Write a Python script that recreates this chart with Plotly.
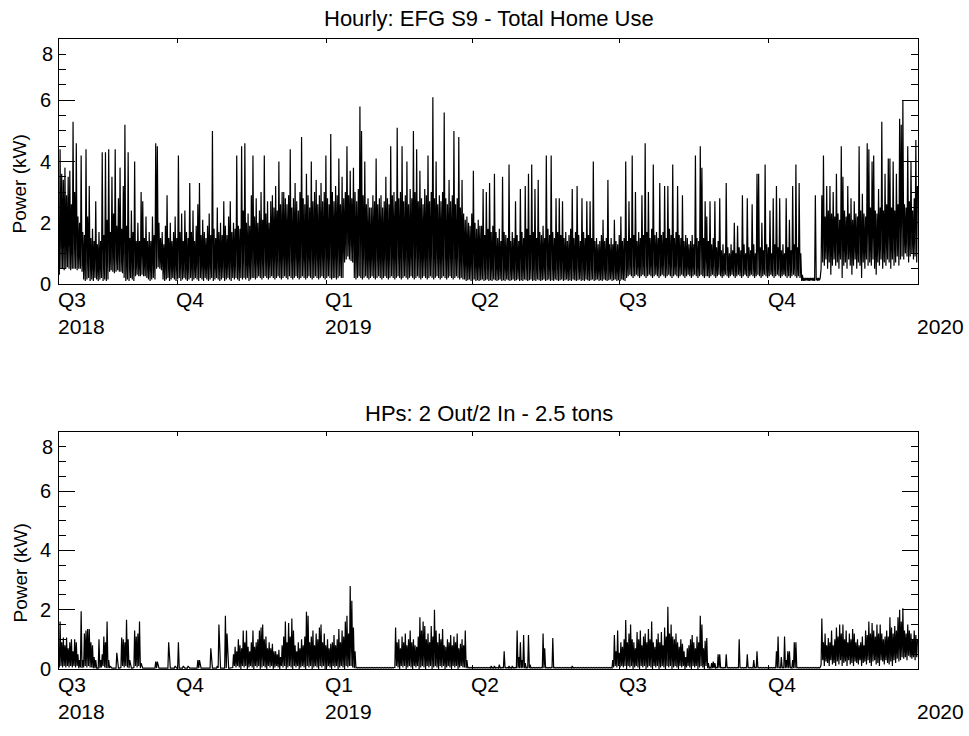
import pandas as pd
import plotly.graph_objects as go

# ---------------------------------------------------------------
# Daily low / high of the hourly power readings (kW), one value per
# day starting 2018-07-20.
# ---------------------------------------------------------------
START = "2018-07-20"
END = "2020-01-01"

HOME_HIGH = [
    4.4, 3.6, 3.4, 3.8, 2.9, 3.5, 3.7, 2.6, 5.3, 3.0,
    4.6, 2.2, 2.0, 4.2, 1.7, 1.6, 4.4, 2.2, 3.2, 1.5,
    1.8, 1.4, 2.7, 1.3, 1.7, 1.4, 4.3, 1.6, 4.3, 2.1,
    4.4, 1.7, 3.5, 2.3, 4.4, 1.9, 2.8, 3.8, 1.8, 3.2,
    5.2, 1.9, 4.3, 1.5, 2.4, 1.7, 4.0, 1.4, 2.0, 1.4,
    3.0, 2.7, 1.5, 2.2, 1.4, 1.7, 1.4, 2.2, 1.6, 4.6,
    4.5, 2.0, 1.5, 1.7, 1.3, 1.9, 2.9, 1.5, 2.0, 1.4,
    1.7, 2.2, 1.5, 4.2, 1.7, 2.3, 1.4, 2.4, 1.7, 1.5,
    3.3, 1.7, 2.4, 1.4, 1.9, 2.6, 3.3, 1.6, 2.1, 1.7,
    1.5, 1.9, 2.3, 1.6, 5.0, 1.8, 1.5, 2.5, 1.7, 2.0,
    1.6, 2.7, 1.9, 1.6, 2.2, 2.7, 1.7, 2.0, 1.8, 4.2,
    1.9, 1.8, 4.5, 2.4, 4.6, 2.0, 2.3, 1.9, 2.9, 4.2,
    2.2, 2.8, 2.0, 2.4, 3.0, 2.1, 4.2, 2.3, 2.7, 2.0,
    2.7, 2.9, 2.5, 3.2, 2.4, 4.0, 2.6, 3.0, 3.0, 2.8,
    2.6, 2.9, 4.4, 2.5, 2.8, 3.3, 2.7, 2.4, 3.0, 4.8,
    2.8, 2.6, 3.6, 2.9, 2.5, 4.0, 2.7, 3.0, 3.4, 2.6,
    2.9, 3.3, 2.7, 3.0, 4.2, 2.8, 2.6, 4.9, 3.0, 2.7,
    3.2, 2.9, 4.1, 2.6, 3.5, 2.8, 3.0, 4.5, 2.9, 3.7,
    2.8, 3.8, 3.0, 2.7, 3.1, 5.8, 5.0, 2.9, 4.0, 2.6,
    2.8, 2.5, 2.5, 2.9, 2.7, 4.1, 2.6, 2.8, 2.9, 2.5,
    2.7, 3.5, 2.8, 2.6, 4.5, 2.9, 3.0, 2.7, 5.1, 2.8,
    3.0, 4.5, 2.7, 2.9, 4.0, 2.6, 3.1, 2.8, 5.0, 3.0,
    4.4, 2.7, 3.7, 2.8, 2.6, 3.1, 2.9, 4.2, 2.7, 3.0,
    6.1, 2.8, 4.0, 2.6, 2.9, 2.7, 3.0, 5.6, 2.8, 2.6,
    3.4, 2.7, 2.9, 5.0, 2.6, 2.8, 4.8, 2.5, 3.4, 2.3,
    2.1, 2.2, 2.0, 1.9, 2.3, 3.7, 2.0, 1.8, 2.1, 1.9,
    1.9, 3.1, 1.6, 3.0, 1.8, 3.3, 1.7, 1.9, 3.6, 1.7,
    1.5, 1.8, 1.4, 3.5, 1.7, 1.6, 1.5, 3.9, 1.4, 1.7,
    1.5, 2.7, 1.6, 1.4, 3.1, 1.7, 1.5, 3.2, 1.8, 3.6,
    1.6, 3.9, 1.7, 3.1, 1.5, 3.4, 1.7, 1.6, 1.9, 1.5,
    4.2, 1.8, 1.6, 4.2, 1.7, 1.5, 2.8, 1.7, 2.8, 1.6,
    2.7, 1.5, 1.7, 1.4, 1.6, 1.8, 3.1, 1.5, 1.7, 3.2,
    1.6, 1.4, 2.8, 1.7, 1.5, 2.7, 1.6, 2.7, 1.5, 4.0,
    1.4, 1.5, 1.3, 1.4, 1.6, 2.1, 1.4, 1.5, 3.4, 1.3,
    1.5, 1.3, 2.1, 1.4, 1.3, 1.6, 2.2, 1.4, 1.5, 4.0,
    1.4, 2.7, 1.5, 4.2, 1.6, 3.0, 1.4, 1.7, 1.5, 2.9,
    1.6, 4.6, 1.7, 3.0, 1.5, 1.8, 3.9, 1.6, 1.7, 1.5,
    3.3, 1.6, 1.7, 3.2, 1.5, 3.2, 1.8, 1.6, 3.9, 1.5,
    1.7, 3.2, 1.6, 1.5, 2.9, 1.4, 1.6, 1.5, 1.3, 1.4,
    1.6, 1.3, 4.2, 1.5, 1.4, 4.5, 3.8, 1.5, 2.7, 2.2,
    1.4, 2.7, 1.3, 1.5, 2.7, 1.2, 1.4, 2.8, 1.1, 1.3,
    1.0, 3.3, 1.2, 1.0, 1.3, 1.1, 2.0, 1.0, 1.9, 1.2,
    1.1, 2.9, 1.3, 1.0, 2.8, 1.2, 1.1, 2.6, 1.3, 1.0,
    3.6, 3.6, 1.2, 2.0, 1.1, 3.9, 1.3, 1.2, 2.4, 1.0,
    2.8, 1.3, 3.2, 1.2, 2.8, 1.1, 1.3, 1.0, 2.8, 1.2,
    2.1, 1.1, 3.2, 1.3, 3.9, 1.2, 3.3, 1.0, 0.3, 0.2,
    0.2, 0.2, 0.2, 0.2, 0.2, 0.2, 2.9, 0.2, 0.2, 0.2,
    2.9, 4.2, 2.2, 3.2, 2.4, 3.2, 2.3, 3.0, 2.2, 3.6,
    2.3, 2.1, 4.5, 3.5, 2.4, 2.2, 3.2, 2.3, 2.8, 2.1,
    2.7, 2.3, 2.2, 4.5, 2.4, 2.95, 2.3, 2.2, 4.6, 4.4,
    2.5, 4.0, 4.2, 2.4, 2.3, 3.1, 2.5, 5.3, 2.4, 3.6,
    2.6, 4.1, 4.1, 2.5, 4.0, 2.4, 3.6, 2.6, 5.4, 5.2,
    6.0, 2.6, 2.5, 4.5, 2.7, 4.0, 2.4, 2.8, 4.7, 3.2,
]

HOME_LOW = [
    0.3, 0.5, 0.5, 0.45, 0.5, 0.55, 0.5, 0.45, 0.5, 0.5,
    0.5, 0.45, 0.5, 0.5, 0.4, 0.15, 0.1, 0.15, 0.2, 0.1,
    0.15, 0.1, 0.2, 0.15, 0.1, 0.15, 0.2, 0.1, 0.15, 0.1,
    0.15, 0.4, 0.45, 0.4, 0.35, 0.4, 0.45, 0.4, 0.4, 0.35,
    0.2, 0.1, 0.15, 0.1, 0.2, 0.15, 0.1, 0.25, 0.3, 0.25,
    0.25, 0.3, 0.25, 0.25, 0.2, 0.15, 0.1, 0.15, 0.2, 0.15,
    0.5, 0.55, 0.5, 0.45, 0.15, 0.1, 0.15, 0.2, 0.1, 0.15,
    0.2, 0.15, 0.1, 0.15, 0.2, 0.1, 0.15, 0.2, 0.15, 0.1,
    0.15, 0.2, 0.1, 0.15, 0.2, 0.15, 0.1, 0.2, 0.15, 0.1,
    0.2, 0.15, 0.1, 0.15, 0.2, 0.1, 0.15, 0.2, 0.15, 0.1,
    0.15, 0.2, 0.1, 0.15, 0.2, 0.15, 0.1, 0.2, 0.15, 0.2,
    0.15, 0.1, 0.2, 0.15, 0.2, 0.15, 0.2, 0.1, 0.15, 0.2,
    0.2, 0.15, 0.2, 0.25, 0.2, 0.15, 0.2, 0.25, 0.2, 0.15,
    0.2, 0.25, 0.2, 0.15, 0.2, 0.25, 0.2, 0.15, 0.2, 0.25,
    0.2, 0.15, 0.25, 0.2, 0.15, 0.2, 0.25, 0.2, 0.15, 0.2,
    0.25, 0.2, 0.15, 0.2, 0.25, 0.2, 0.15, 0.2, 0.25, 0.2,
    0.15, 0.2, 0.25, 0.2, 0.15, 0.2, 0.25, 0.2, 0.15, 0.2,
    0.2, 0.15, 0.2, 0.25, 0.2, 0.2, 0.7, 0.8, 0.9, 0.8,
    0.75, 0.7, 0.2, 0.15, 0.2, 0.25, 0.2, 0.15, 0.2, 0.25,
    0.2, 0.15, 0.2, 0.25, 0.2, 0.15, 0.2, 0.25, 0.2, 0.15,
    0.2, 0.25, 0.2, 0.15, 0.2, 0.25, 0.2, 0.15, 0.2, 0.25,
    0.2, 0.15, 0.2, 0.25, 0.2, 0.15, 0.2, 0.25, 0.2, 0.15,
    0.2, 0.25, 0.2, 0.15, 0.2, 0.25, 0.2, 0.15, 0.2, 0.25,
    0.2, 0.15, 0.2, 0.25, 0.2, 0.15, 0.2, 0.25, 0.2, 0.15,
    0.2, 0.25, 0.2, 0.15, 0.2, 0.25, 0.2, 0.15, 0.2, 0.15,
    0.15, 0.1, 0.12, 0.15, 0.1, 0.12, 0.15, 0.1, 0.12, 0.1,
    0.12, 0.15, 0.1, 0.12, 0.15, 0.1, 0.12, 0.1, 0.15, 0.12,
    0.1, 0.12, 0.15, 0.1, 0.12, 0.1, 0.15, 0.12, 0.1, 0.12,
    0.15, 0.1, 0.12, 0.15, 0.1, 0.12, 0.1, 0.15, 0.12, 0.1,
    0.12, 0.15, 0.1, 0.12, 0.1, 0.15, 0.12, 0.1, 0.12, 0.15,
    0.1, 0.12, 0.15, 0.1, 0.12, 0.1, 0.15, 0.12, 0.1, 0.12,
    0.15, 0.1, 0.12, 0.15, 0.1, 0.12, 0.1, 0.15, 0.12, 0.1,
    0.12, 0.15, 0.1, 0.12, 0.1, 0.15, 0.12, 0.1, 0.12, 0.15,
    0.1, 0.12, 0.15, 0.1, 0.12, 0.1, 0.15, 0.12, 0.1, 0.12,
    0.15, 0.1, 0.12, 0.15, 0.1, 0.12, 0.1, 0.15, 0.12, 0.1,
    0.2, 0.25, 0.3, 0.25, 0.2, 0.25, 0.3, 0.25, 0.2, 0.25,
    0.3, 0.25, 0.2, 0.25, 0.3, 0.25, 0.2, 0.25, 0.3, 0.25,
    0.2, 0.25, 0.3, 0.25, 0.2, 0.25, 0.3, 0.25, 0.2, 0.25,
    0.3, 0.25, 0.2, 0.25, 0.3, 0.25, 0.2, 0.25, 0.3, 0.25,
    0.2, 0.25, 0.3, 0.25, 0.2, 0.25, 0.3, 0.25, 0.2, 0.25,
    0.25, 0.2, 0.25, 0.3, 0.25, 0.2, 0.25, 0.3, 0.25, 0.2,
    0.25, 0.3, 0.25, 0.2, 0.25, 0.3, 0.25, 0.2, 0.25, 0.3,
    0.25, 0.2, 0.25, 0.3, 0.25, 0.2, 0.25, 0.3, 0.25, 0.2,
    0.25, 0.3, 0.25, 0.2, 0.25, 0.3, 0.25, 0.2, 0.25, 0.3,
    0.25, 0.2, 0.25, 0.3, 0.25, 0.2, 0.25, 0.3, 0.25, 0.2,
    0.25, 0.2, 0.25, 0.3, 0.25, 0.2, 0.25, 0.2, 0.1, 0.1,
    0.1, 0.12, 0.1, 0.1, 0.12, 0.1, 0.1, 0.12, 0.1, 0.12,
    0.5, 0.7, 0.6, 0.8, 0.5, 0.7, 0.3, 0.6, 0.8, 0.6,
    0.7, 0.5, 0.8, 0.2, 0.6, 0.7, 0.5, 0.8, 0.6, 0.3,
    0.6, 0.8, 0.5, 0.7, 0.6, 0.2, 0.7, 0.5, 0.8, 0.6,
    0.7, 0.6, 0.8, 0.5, 0.3, 0.7, 0.6, 0.8, 0.5, 0.7,
    0.6, 0.8, 0.7, 0.5, 0.8, 0.6, 0.7, 0.9, 0.6, 0.8,
    0.9, 0.8, 1.0, 0.9, 0.7, 0.9, 1.0, 0.8, 0.9, 0.7,
]

HP_HIGH = [
    1.6, 0.9, 1.06, 0.8, 1.06, 0.7, 0.9, 1.0, 0.6, 1.0,
    0.9, 0.5, 0.3, 1.95, 0.3, 1.2, 1.3, 1.35, 1.35, 0.9,
    0.8, 0.4, 0.3, 0.03, 1.0, 0.3, 0.5, 1.1, 0.9, 1.6,
    0.3, 0.1, 0.03, 0.03, 0.03, 0.55, 0.03, 0.03, 1.06, 1.0,
    0.9, 1.66, 1.0, 0.3, 0.03, 0.03, 1.3, 1.1, 1.2, 1.6,
    0.2, 0.03, 0.03, 0.03, 0.03, 0.03, 0.03, 0.03, 0.03, 0.25,
    0.25, 0.03, 0.03, 0.03, 0.03, 0.03, 0.03, 0.9, 0.03, 0.03,
    0.03, 0.1, 0.03, 0.9, 0.03, 0.03, 0.1, 0.03, 0.03, 0.1,
    0.03, 0.03, 0.03, 0.03, 0.03, 0.3, 0.3, 0.03, 0.03, 0.03,
    0.03, 0.03, 0.03, 0.7, 0.03, 0.03, 0.03, 0.1, 1.5, 0.03,
    0.03, 0.03, 1.8, 1.2, 0.03, 0.03, 0.03, 0.5, 0.75, 0.6,
    1.0, 0.8, 0.7, 1.3, 0.9, 1.3, 0.75, 0.6, 0.9, 1.3,
    0.75, 0.9, 1.0, 1.3, 1.4, 1.5, 1.0, 1.1, 0.7, 0.9,
    0.7, 0.85, 0.6, 0.6, 0.5, 0.65, 0.4, 0.8, 1.1, 1.6,
    0.9, 1.55, 1.1, 1.7, 1.3, 0.8, 0.6, 0.9, 0.7, 1.0,
    0.8, 1.1, 1.93, 1.8, 0.9, 1.1, 1.3, 0.8, 1.2, 1.0,
    1.4, 1.5, 0.9, 1.2, 0.8, 1.0, 0.7, 0.85, 0.9, 1.15,
    0.8, 1.0, 1.35, 0.9, 1.3, 1.1, 1.6, 1.8, 1.2, 2.8,
    2.3, 1.4, 0.6, 0.05, 0.05, 0.05, 0.05, 0.05, 0.05, 0.05,
    0.05, 0.05, 0.05, 0.05, 0.05, 0.05, 0.05, 0.05, 0.05, 0.05,
    0.05, 0.05, 0.05, 0.05, 0.05, 0.05, 0.05, 1.4, 0.9, 1.0,
    0.7, 1.1, 0.9, 1.2, 0.8, 1.0, 1.3, 0.9, 1.0, 0.8,
    0.75, 1.1, 1.75, 1.3, 1.6, 1.45, 1.0, 1.2, 0.9, 1.45,
    1.1, 2.0, 1.3, 0.9, 1.2, 1.0, 1.35, 0.8, 0.75, 1.0,
    0.9, 1.15, 0.8, 1.1, 0.9, 1.2, 0.7, 0.85, 1.0, 0.8,
    1.3, 0.3, 0.05, 0.05, 0.05, 0.05, 0.05, 0.05, 0.05, 0.05,
    0.05, 0.05, 0.05, 0.05, 0.05, 0.05, 0.1, 0.05, 0.1, 0.05,
    0.05, 0.15, 0.05, 0.05, 0.6, 0.05, 0.05, 0.1, 0.05, 0.1,
    0.05, 0.05, 1.3, 0.4, 0.9, 0.3, 1.15, 0.2, 0.05, 1.15,
    0.15, 0.05, 0.05, 0.05, 0.05, 0.05, 0.05, 0.05, 1.2, 0.7,
    0.05, 0.05, 0.05, 0.05, 1.05, 0.05, 0.05, 0.05, 0.05, 0.05,
    0.05, 0.05, 0.05, 0.05, 0.05, 0.05, 0.1, 0.05, 0.05, 0.05,
    0.05, 0.05, 0.05, 0.05, 0.05, 0.05, 0.05, 0.05, 0.05, 0.05,
    0.05, 0.05, 0.05, 0.05, 0.05, 0.05, 0.05, 0.05, 0.05, 0.05,
    0.05, 0.3, 1.15, 0.6, 1.3, 0.55, 0.9, 0.75, 1.0, 1.65,
    0.9, 1.2, 1.5, 1.0, 0.9, 0.7, 1.25, 1.0, 1.3, 0.8,
    1.1, 1.2, 0.9, 1.35, 1.0, 1.6, 0.9, 0.75, 1.0, 1.2,
    0.9, 1.25, 0.8, 1.4, 1.1, 2.1, 1.2, 1.5, 1.1, 1.0,
    1.2, 0.9, 0.75, 1.0, 0.85, 0.6, 0.4, 0.7, 0.8, 1.0,
    1.15, 0.9, 0.7, 1.1, 0.9, 1.8, 1.5, 0.7, 0.95, 1.05,
    0.2, 0.05, 0.2, 0.25, 0.2, 0.05, 0.5, 0.5, 0.05, 0.05,
    0.05, 0.5, 0.05, 0.05, 0.05, 0.05, 0.05, 0.05, 0.05, 1.0,
    0.05, 0.05, 0.05, 0.05, 0.5, 0.05, 0.05, 0.05, 0.3, 0.05,
    0.6, 0.05, 0.05, 0.05, 0.05, 0.05, 0.05, 0.05, 0.05, 0.05,
    0.05, 0.05, 0.6, 1.1, 0.05, 0.4, 0.05, 1.1, 0.3, 0.6,
    0.6, 0.05, 0.3, 0.9, 0.9, 0.05, 0.05, 0.05, 0.05, 0.05,
    0.05, 0.05, 0.05, 0.05, 0.05, 0.05, 0.05, 0.05, 0.05, 0.05,
    1.7, 0.9, 1.2, 0.8, 1.05, 0.9, 1.3, 0.8, 1.0, 1.4,
    1.1, 1.5, 1.2, 1.5, 1.0, 1.3, 0.9, 1.2, 1.0, 1.35,
    1.2, 0.9, 1.0, 0.8, 0.9, 1.1, 0.8, 1.3, 1.15, 1.6,
    1.2, 1.55, 1.3, 1.1, 1.5, 1.2, 1.5, 1.2, 1.0, 1.1,
    1.3, 1.1, 1.75, 1.4, 1.2, 1.45, 1.3, 1.75, 2.0, 1.6,
    2.05, 1.3, 1.2, 1.5, 1.3, 1.2, 1.0, 1.3, 1.15, 1.0,
]

HP_LOW = [
    0.05, 0.1, 0.05, 0.1, 0.05, 0.1, 0.05, 0.1, 0.05, 0.1,
    0.05, 0.1, 0.03, 0.05, 0.03, 0.05, 0.1, 0.05, 0.1, 0.05,
    0.05, 0.03, 0.03, 0.03, 0.03, 0.03, 0.05, 0.1, 0.05, 0.03,
    0.03, 0.03, 0.03, 0.03, 0.03, 0.03, 0.03, 0.03, 0.05, 0.1,
    0.05, 0.1, 0.05, 0.03, 0.03, 0.03, 0.05, 0.1, 0.05, 0.1,
    0.03, 0.03, 0.03, 0.03, 0.03, 0.03, 0.03, 0.03, 0.03, 0.03,
    0.03, 0.03, 0.03, 0.03, 0.03, 0.03, 0.03, 0.03, 0.03, 0.03,
    0.03, 0.03, 0.03, 0.03, 0.03, 0.03, 0.03, 0.03, 0.03, 0.03,
    0.03, 0.03, 0.03, 0.03, 0.03, 0.03, 0.03, 0.03, 0.03, 0.03,
    0.03, 0.03, 0.03, 0.03, 0.03, 0.03, 0.03, 0.03, 0.03, 0.03,
    0.03, 0.03, 0.03, 0.03, 0.03, 0.03, 0.03, 0.05, 0.1, 0.05,
    0.1, 0.05, 0.0, 0.1, 0.05, 0.1, 0.0, 0.05, 0.1, 0.05,
    0.0, 0.1, 0.05, 0.1, 0.0, 0.05, 0.1, 0.05, 0.0, 0.1,
    0.05, 0.1, 0.0, 0.05, 0.1, 0.05, 0.0, 0.1, 0.05, 0.1,
    0.0, 0.05, 0.1, 0.05, 0.0, 0.1, 0.05, 0.1, 0.0, 0.05,
    0.1, 0.05, 0.0, 0.1, 0.05, 0.1, 0.0, 0.05, 0.1, 0.05,
    0.0, 0.1, 0.05, 0.1, 0.0, 0.05, 0.1, 0.05, 0.0, 0.1,
    0.05, 0.1, 0.0, 0.05, 0.1, 0.05, 0.0, 0.1, 0.05, 0.1,
    0.1, 0.05, 0.03, 0.03, 0.03, 0.03, 0.03, 0.03, 0.03, 0.03,
    0.03, 0.03, 0.03, 0.03, 0.03, 0.03, 0.03, 0.03, 0.03, 0.03,
    0.03, 0.03, 0.03, 0.03, 0.03, 0.03, 0.03, 0.05, 0.1, 0.05,
    0.0, 0.1, 0.05, 0.1, 0.0, 0.05, 0.1, 0.05, 0.0, 0.1,
    0.05, 0.1, 0.0, 0.05, 0.1, 0.05, 0.0, 0.1, 0.05, 0.1,
    0.0, 0.05, 0.1, 0.05, 0.0, 0.1, 0.05, 0.1, 0.0, 0.05,
    0.1, 0.05, 0.0, 0.1, 0.05, 0.1, 0.0, 0.05, 0.1, 0.05,
    0.05, 0.03, 0.03, 0.03, 0.03, 0.03, 0.03, 0.03, 0.03, 0.03,
    0.03, 0.03, 0.03, 0.03, 0.03, 0.03, 0.03, 0.03, 0.03, 0.03,
    0.03, 0.03, 0.03, 0.03, 0.03, 0.03, 0.03, 0.03, 0.03, 0.03,
    0.03, 0.03, 0.03, 0.03, 0.03, 0.03, 0.03, 0.03, 0.03, 0.03,
    0.03, 0.03, 0.03, 0.03, 0.03, 0.03, 0.03, 0.03, 0.03, 0.03,
    0.03, 0.03, 0.03, 0.03, 0.03, 0.03, 0.03, 0.03, 0.03, 0.03,
    0.03, 0.03, 0.03, 0.03, 0.03, 0.03, 0.03, 0.03, 0.03, 0.03,
    0.03, 0.03, 0.03, 0.03, 0.03, 0.03, 0.03, 0.03, 0.03, 0.03,
    0.03, 0.03, 0.03, 0.03, 0.03, 0.03, 0.03, 0.03, 0.03, 0.03,
    0.03, 0.03, 0.05, 0.1, 0.05, 0.1, 0.05, 0.1, 0.05, 0.1,
    0.0, 0.1, 0.05, 0.1, 0.0, 0.05, 0.1, 0.05, 0.0, 0.1,
    0.05, 0.1, 0.0, 0.05, 0.1, 0.05, 0.0, 0.1, 0.05, 0.1,
    0.0, 0.05, 0.1, 0.05, 0.0, 0.1, 0.05, 0.1, 0.0, 0.05,
    0.1, 0.05, 0.0, 0.1, 0.05, 0.1, 0.0, 0.05, 0.1, 0.05,
    0.0, 0.1, 0.05, 0.1, 0.0, 0.05, 0.1, 0.05, 0.0, 0.1,
    0.03, 0.03, 0.03, 0.03, 0.03, 0.03, 0.03, 0.03, 0.03, 0.03,
    0.03, 0.03, 0.03, 0.03, 0.03, 0.03, 0.03, 0.03, 0.03, 0.03,
    0.03, 0.03, 0.03, 0.03, 0.03, 0.03, 0.03, 0.03, 0.03, 0.03,
    0.03, 0.03, 0.03, 0.03, 0.03, 0.03, 0.03, 0.03, 0.03, 0.03,
    0.03, 0.03, 0.03, 0.03, 0.03, 0.03, 0.03, 0.03, 0.03, 0.03,
    0.03, 0.03, 0.03, 0.03, 0.03, 0.03, 0.03, 0.03, 0.03, 0.03,
    0.03, 0.03, 0.03, 0.03, 0.03, 0.03, 0.03, 0.03, 0.03, 0.03,
    0.15, 0.3, 0.1, 0.25, 0.2, 0.1, 0.3, 0.15, 0.2, 0.1,
    0.25, 0.15, 0.3, 0.1, 0.2, 0.25, 0.1, 0.3, 0.15, 0.2,
    0.1, 0.25, 0.2, 0.15, 0.3, 0.1, 0.2, 0.25, 0.15, 0.3,
    0.2, 0.1, 0.25, 0.3, 0.15, 0.2, 0.1, 0.3, 0.25, 0.15,
    0.3, 0.2, 0.15, 0.25, 0.1, 0.3, 0.2, 0.35, 0.25, 0.3,
    0.4, 0.35, 0.4, 0.3, 0.45, 0.4, 0.35, 0.4, 0.3, 0.4,
]

QUARTER_TICKS = ["2018-10-01", "2019-01-01", "2019-04-01", "2019-07-01", "2019-10-01"]
QUARTER_LABELS = [(START, "Q3"), ("2018-10-01", "Q4"), ("2019-01-01", "Q1"),
                  ("2019-04-01", "Q2"), ("2019-07-01", "Q3"), ("2019-10-01", "Q4")]
YEAR_LABELS = [(START, "2018"), ("2019-01-01", "2019"), (END, "2020")]

PANEL_TITLES = ["Hourly: EFG S9 - Total Home Use", "HPs: 2 Out/2 In - 2.5 tons"]
Y_TITLE = "Power (kW)"
Y_MAJOR = [0, 2, 4, 6]
Y_MINOR = [0.5, 1, 1.5, 2.5, 3, 3.5, 4.5, 5, 5.5, 6.5, 7, 7.5]

FONT = "Liberation Sans, Arial, Helvetica, sans-serif"


def zigzag(low, high):
    """Interleave each day's low and high reading along the time axis."""
    days = pd.date_range(START, periods=len(high), freq="D")
    xs, ys = [], []
    for d, lo, hi in zip(days, low, high):
        xs += [d + pd.Timedelta(hours=5), d + pd.Timedelta(hours=16)]
        ys += [lo, hi]
    return xs, ys


fig = go.Figure()
for i, (low, high) in enumerate([(HOME_LOW, HOME_HIGH), (HP_LOW, HP_HIGH)]):
    xs, ys = zigzag(low, high)
    fig.add_trace(go.Scatter(
        x=xs, y=ys, mode="lines",
        line=dict(color="black", width=1.2),
        xaxis="x" if i == 0 else "x2",
        yaxis="y" if i == 0 else "y2",
        showlegend=False, hoverinfo="skip",
    ))

xaxis_style = dict(
    type="date", range=[START, END],
    tickvals=QUARTER_TICKS, ticks="inside", ticklen=4, tickcolor="black",
    showticklabels=False, showline=True, linecolor="black", linewidth=1,
    mirror="ticks", showgrid=False, zeroline=False,
)
yaxis_style = dict(
    range=[0, 8], tickvals=Y_MAJOR, ticks="inside", ticklen=16,
    tickcolor="black", showline=True, linecolor="black", linewidth=1,
    mirror="ticks", showgrid=False, zeroline=False,
    tickfont=dict(family=FONT, size=20, color="black"),
    ticklabelstandoff=3,
    minor=dict(tickvals=Y_MINOR, ticks="inside", ticklen=7,
               tickcolor="black", showgrid=False),
)

TOP_DOMAIN = [0.6111, 1.0]
BOT_DOMAIN = [0.0, 0.3762]

fig.update_layout(
    width=969, height=736,
    margin=dict(l=59, r=51, t=39, b=67),
    paper_bgcolor="white", plot_bgcolor="white",
    font=dict(family=FONT, color="black"),
    xaxis=dict(**xaxis_style, anchor="y", domain=[0, 1]),
    yaxis=dict(**yaxis_style, anchor="x", domain=TOP_DOMAIN),
    xaxis2=dict(**xaxis_style, anchor="y2", domain=[0, 1]),
    yaxis2=dict(**yaxis_style, anchor="x2", domain=BOT_DOMAIN),
)

annotations = []
for dom, yref, title, tshift in [(TOP_DOMAIN, "y", PANEL_TITLES[0], 6),
                                 (BOT_DOMAIN, "y2", PANEL_TITLES[1], 4)]:
    xref = "x" if yref == "y" else "x2"
    # panel title
    annotations.append(dict(
        text=title, xref="paper", yref="paper", x=0.5, y=dom[1],
        xanchor="center", yanchor="bottom", yshift=tshift, showarrow=False,
        font=dict(family=FONT, size=22, color="black")))
    # y-axis title
    annotations.append(dict(
        text=Y_TITLE, xref="paper", yref="paper", x=0, xshift=-39,
        y=(dom[0] + dom[1]) / 2, yshift=-23, textangle=-90,
        xanchor="center", yanchor="middle", showarrow=False,
        font=dict(family=FONT, size=19, color="black")))
    # top label of the y scale
    annotations.append(dict(
        text="8", xref="paper", yref=yref, x=0, y=7.5, xshift=-4,
        xanchor="right", yanchor="middle", showarrow=False,
        font=dict(family=FONT, size=20, color="black")))
    # quarter / year labels along the time axis
    for when, label in QUARTER_LABELS:
        annotations.append(dict(
            text=label, xref=xref, yref="paper", x=when, y=dom[0],
            xanchor="left", yanchor="top", yshift=-2, xshift=-3,
            showarrow=False, font=dict(family=FONT, size=21, color="black")))
    for when, label in YEAR_LABELS:
        annotations.append(dict(
            text=label, xref=xref, yref="paper", x=when, y=dom[0],
            xanchor="left", yanchor="top", yshift=-29, xshift=-3,
            showarrow=False, font=dict(family=FONT, size=21, color="black")))

fig.update_layout(annotations=annotations)

fig.write_html("out.html")
